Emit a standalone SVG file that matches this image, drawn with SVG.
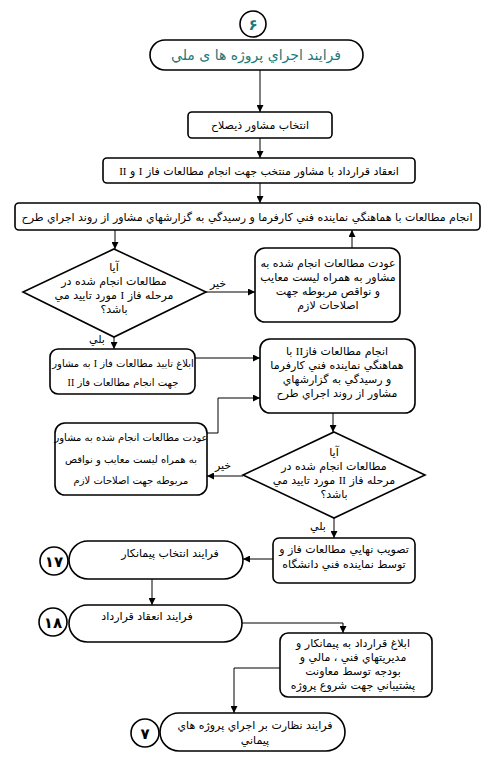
<svg xmlns="http://www.w3.org/2000/svg" width="493" height="768" viewBox="0 0 493 768">
<defs>
<marker id="ah" viewBox="0 0 10 10" refX="10" refY="5" markerWidth="7" markerHeight="7" orient="auto" markerUnits="userSpaceOnUse">
<path d="M0,0 L10,5 L0,10 z" fill="#000"/>
</marker>
</defs>
<style>
.b{fill:#fff;stroke:#000;stroke-width:1.6}
.t{font-family:"DejaVu Sans",sans-serif;font-size:11px;fill:#000;text-anchor:middle;direction:rtl}
.s{font-size:10px}
.r{font-family:"Liberation Serif",serif}
.c{stroke:#000;stroke-width:1;fill:none;marker-end:url(#ah)}
.n{font-family:"DejaVu Sans",sans-serif;font-size:15px;font-weight:bold;text-anchor:middle;fill:#000}
</style>
<rect width="493" height="768" fill="#fff"/>

<g id="connectors">
<path class="c" d="M260,70 V112"/>
<path class="c" d="M260,138 V158"/>
<path class="c" d="M260,183 V203"/>
<path class="c" d="M115,230 V249"/>
<path class="c" d="M352,248 V230"/>
<path class="c" d="M206,292 H255"/>
<path class="c" d="M114,337 V349"/>
<path class="c" d="M195,358 H260"/>
<path class="c" d="M207,433 H218 V398 H260"/>
<path class="c" d="M333,413 V432"/>
<path class="c" d="M243,476 H207"/>
<path class="c" d="M334,518 V538"/>
<path class="c" d="M273,559 H243"/>
<path class="c" d="M152,579 V605"/>
<path class="c" d="M242,623 H343 V633"/>
<path class="c" d="M280,668 H234 V713"/>
</g>

<g id="n6">
<circle cx="253" cy="24" r="13" class="b"/>
<text x="253" y="30" class="n" style="fill:#1a7a7a">۶</text>
</g>
<g id="title">
<rect x="150" y="40" width="213" height="30" rx="15" class="b"/>
<text x="256" y="60" class="t" style="font-size:14px;fill:#1a7a7a">فرايند اجراي پروژه ها ی ملي</text>
</g>
<g id="select">
<rect x="188" y="112" width="144" height="26" rx="4" class="b"/>
<text x="260" y="129" class="t">انتخاب مشاور ذيصلاح</text>
</g>
<g id="contract">
<rect x="103" y="158" width="312" height="25" rx="4" class="b"/>
<text x="259" y="175" class="t">انعقاد قرارداد با مشاور منتخب جهت انجام مطالعات فاز <tspan class="r">I</tspan> و <tspan class="r">II</tspan></text>
</g>
<g id="study">
<rect x="15" y="203" width="465" height="27" rx="4" class="b"/>
<text x="247" y="221" class="t">انجام مطالعات با هماهنگي نماينده فني كارفرما و رسيدگي به گزارشهاي مشاور از روند اجراي طرح</text>
</g>
<g id="d1">
<path d="M114,249 L206,292 L114,337 L23,292 Z" class="b"/>
<text class="t"><tspan x="114" y="271">آيا</tspan><tspan x="114" y="285">مطالعات انجام شده در</tspan><tspan x="114" y="299">مرحله فاز <tspan class="r">I</tspan> مورد تاييد مي</tspan><tspan x="114" y="313">باشد؟</tspan></text>
</g>
<text x="218" y="287" class="t">خير</text>
<text x="97" y="343" class="t">بلي</text>
<g id="return1">
<rect x="255" y="248" width="145" height="74" rx="10" class="b"/>
<text class="t"><tspan x="328" y="267">عودت مطالعات انجام شده به</tspan><tspan x="328" y="281">مشاور به همراه ليست معايب</tspan><tspan x="328" y="295">و نواقص مربوطه جهت</tspan><tspan x="328" y="309">اصلاحات لازم</tspan></text>
</g>
<g id="notify1">
<rect x="50" y="349" width="145" height="45" rx="8" class="b"/>
<text class="t s"><tspan x="123" y="367">ابلاغ تاييد مطالعات فاز <tspan class="r">I</tspan> به مشاور</tspan><tspan x="123" y="386">جهت انجام مطالعات فاز <tspan class="r">II</tspan></tspan></text>
</g>
<g id="study2">
<rect x="260" y="339" width="155" height="74" rx="10" class="b"/>
<text class="t"><tspan x="337" y="355">انجام مطالعات فاز<tspan class="r">II</tspan> با</tspan><tspan x="337" y="369">هماهنگي نماينده فني كارفرما</tspan><tspan x="337" y="383">و رسيدگي به گزارشهاي</tspan><tspan x="337" y="397">مشاور از روند اجراي طرح</tspan></text>
</g>
<g id="return2">
<rect x="55" y="423" width="152" height="72" rx="10" class="b"/>
<text class="t s"><tspan x="131" y="441">عودت مطالعات انجام شده به مشاور</tspan><tspan x="131" y="463">به همراه ليست معايب و نواقص</tspan><tspan x="131" y="484">مربوطه جهت اصلاحات لازم</tspan></text>
</g>
<g id="d2">
<path d="M334,432 L425,475 L334,518 L243,475 Z" class="b"/>
<text class="t"><tspan x="334" y="456">آيا</tspan><tspan x="334" y="470">مطالعات انجام شده در</tspan><tspan x="334" y="484">مرحله فاز <tspan class="r">II</tspan> مورد تاييد مي</tspan><tspan x="334" y="498">باشد؟</tspan></text>
</g>
<text x="223" y="469" class="t">خير</text>
<text x="318" y="530" class="t">بلي</text>
<g id="approve">
<rect x="273" y="538" width="142" height="45" rx="6" class="b"/>
<text class="t"><tspan x="344" y="553">تصويب نهايي مطالعات فاز و</tspan><tspan x="344" y="568">توسط نماينده فني دانشگاه</tspan></text>
</g>
<g id="p17">
<circle cx="54" cy="561" r="14" class="b"/>
<text x="54" y="567" class="n">۱۷</text>
<rect x="69" y="541" width="174" height="38" rx="19" class="b"/>
<text x="170" y="557" class="t">فرايند انتخاب پيمانكار</text>
</g>
<g id="p18">
<circle cx="53" cy="622" r="14" class="b"/>
<text x="53" y="628" class="n">۱۸</text>
<rect x="69" y="605" width="173" height="37" rx="18.5" class="b"/>
<text x="147" y="620" class="t">فرايند انعقاد قرارداد</text>
</g>
<g id="notify2">
<rect x="280" y="633" width="152" height="64" rx="8" class="b"/>
<text class="t"><tspan x="353" y="647">ابلاغ قرارداد به پيمانكار و</tspan><tspan x="353" y="661">مديريتهاي فني ، مالي و</tspan><tspan x="353" y="675">بودجه توسط معاونت</tspan><tspan x="353" y="689">پشتيباني جهت شروع پروژه</tspan></text>
</g>
<g id="p7">
<circle cx="145" cy="733" r="14" class="b"/>
<text x="145" y="739" class="n">۷</text>
<rect x="160" y="713" width="185" height="38" rx="19" class="b"/>
<text class="t"><tspan x="255" y="729">فرايند نظارت بر اجراي پروژه هاي</tspan><tspan x="255" y="744">پيماني</tspan></text>
</g>
</svg>
